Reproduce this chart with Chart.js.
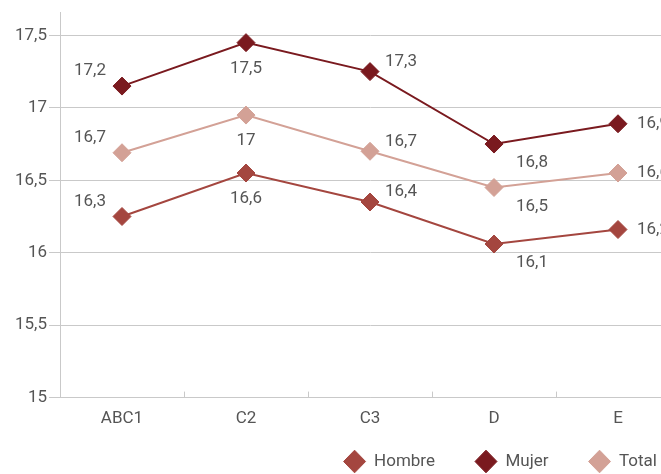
<!DOCTYPE html>
<html>
<head>
<meta charset="utf-8">
<script src="https://cdn.jsdelivr.net/npm/chart.js@4"></script>
<style>
  html, body { margin: 0; padding: 0; background: #ffffff; overflow: hidden; }
  #wrap { width: 697px; height: 474px; position: relative; }
</style>
</head>
<body>
<div id="wrap"><canvas id="chart" width="697" height="474"></canvas></div>
<script>
// Categories (socio-economic groups) and values per series
const categories = ['ABC1', 'C2', 'C3', 'D', 'E'];
const hombre = [16.25, 16.55, 16.35, 16.06, 16.16];
const mujer  = [17.15, 17.45, 17.25, 16.75, 16.89];
const total  = [16.69, 16.95, 16.70, 16.45, 16.55];
const yTicks = [15, 15.5, 16, 16.5, 17, 17.5];

const FONT = 'Roboto, "Liberation Sans", sans-serif';
const TEXT = '#555555';
const GRID = '#c9c9c9';

// one decimal, comma separator, no trailing ",0"
const fmt = v => String(Math.round(v * 10) / 10).replace('.', ',');

// label placement around each point, by category
const labelOffsets = [
  [-32, -15, 'center'],
  [0, 26, 'center'],
  [31, -10, 'center'],
  [38, 19, 'center'],
  [19, 0, 'left']
];

const valueLabels = {
  id: 'valueLabels',
  afterDatasetsDraw(chart) {
    const ctx = chart.ctx;
    ctx.save();
    ctx.font = '17px ' + FONT;
    ctx.fillStyle = TEXT;
    ctx.textBaseline = 'middle';
    chart.data.datasets.forEach((ds, di) => {
      chart.getDatasetMeta(di).data.forEach((pt, i) => {
        const [dx, dy, align] = labelOffsets[i];
        ctx.textAlign = align;
        ctx.fillText(fmt(ds.data[i]), pt.x + dx, pt.y + dy);
      });
    });
    ctx.restore();
  }
};

// short marks on the category axis between groups
const boundaryTicks = {
  id: 'boundaryTicks',
  afterDraw(chart) {
    const xs = chart.scales.x;
    const bottom = chart.chartArea.bottom;
    const ctx = chart.ctx;
    ctx.save();
    ctx.strokeStyle = GRID;
    ctx.lineWidth = 1;
    for (let i = 1; i < categories.length; i++) {
      const px = Math.round((xs.getPixelForValue(i - 1) + xs.getPixelForValue(i)) / 2) + 0.5;
      ctx.beginPath();
      ctx.moveTo(px, bottom - 6);
      ctx.lineTo(px, bottom);
      ctx.stroke();
    }
    ctx.restore();
  }
};

// pull the legend row up closer to the category labels
const legendLift = {
  id: 'legendLift',
  afterLayout(chart) {
    const lg = chart.legend;
    if (!lg) return;
    lg.top -= 27;
    lg.bottom -= 27;
  }
};

function series(label, data, color) {
  return {
    label, data,
    borderColor: color,
    backgroundColor: color,
    borderWidth: 2,
    pointStyle: 'rectRot',
    pointRadius: 9,
    pointHoverRadius: 9,
    pointBorderWidth: 1,
    pointBorderColor: color,
    pointBackgroundColor: color,
    tension: 0
  };
}

new Chart(document.getElementById('chart'), {
  type: 'line',
  data: {
    labels: categories,
    datasets: [
      series('Hombre', hombre, '#a4463f'),
      series('Mujer', mujer, '#7a1a1f'),
      series('Total', total, '#d3a196')
    ]
  },
  options: {
    responsive: false,
    animation: false,
    layout: { padding: { top: 12, right: 0, left: 0, bottom: -33 } },
    plugins: {
      tooltip: { enabled: false },
      legend: {
        position: 'bottom',
        align: 'end',
        labels: {
          usePointStyle: true,
          pointStyle: 'rectRot',
          boxHeight: 16,
          pointStyleWidth: 22,
          padding: 40,
          color: TEXT,
          font: { size: 17, family: FONT }
        }
      }
    },
    scales: {
      x: {
        offset: true,
        grid: { display: false, drawTicks: false },
        border: { color: GRID },
        ticks: { color: TEXT, padding: 11, font: { size: 17, family: FONT } }
      },
      y: {
        min: 15,
        max: 17.66,
        afterBuildTicks: s => { s.ticks = yTicks.map(v => ({ value: v })); },
        afterFit: s => { s.width = 60; },
        grid: { color: GRID, tickLength: 11 },
        border: { color: GRID },
        ticks: { color: TEXT, padding: 2, font: { size: 17, family: FONT }, callback: v => fmt(v) }
      },
      // empty right-hand margin beside the plot
      yRight: {
        position: 'right',
        grid: { display: false, drawTicks: false },
        border: { display: false },
        ticks: { display: false },
        afterFit: s => { s.width = 17; }
      }
    }
  },
  plugins: [valueLabels, boundaryTicks, legendLift]
});
</script>
</body>
</html>
